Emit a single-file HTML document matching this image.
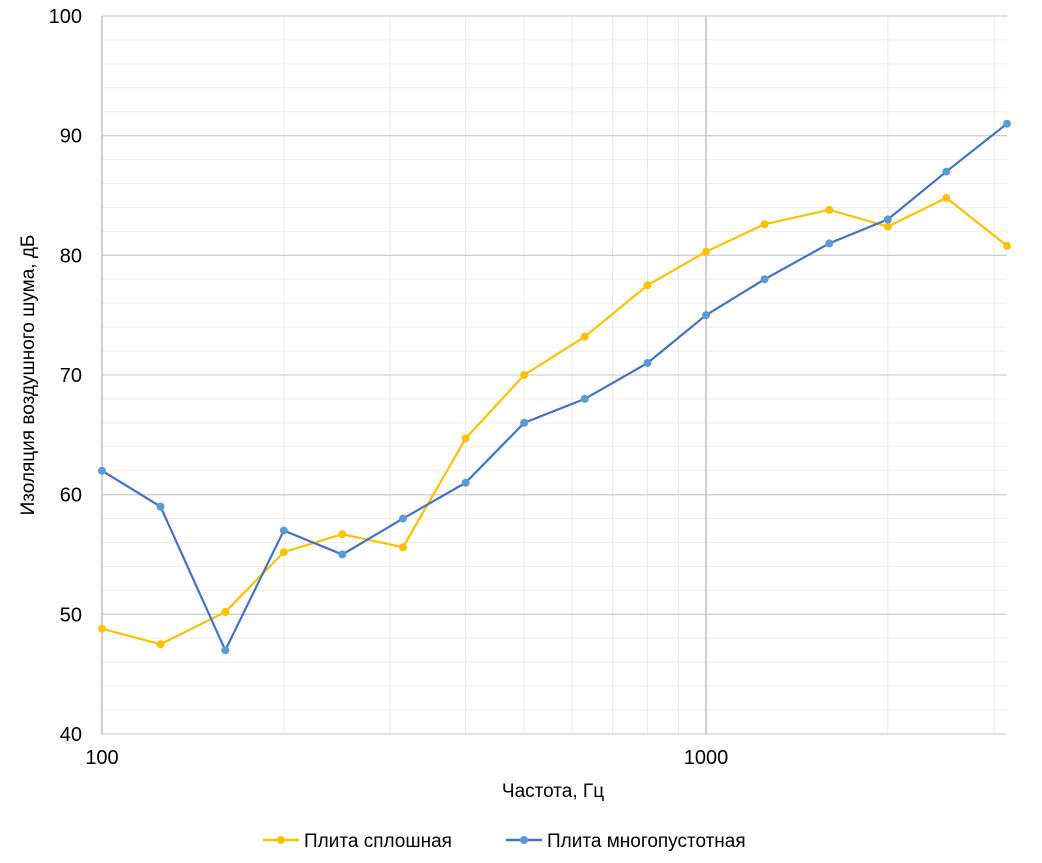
<!DOCTYPE html>
<html><head><meta charset="utf-8"><style>
body{margin:0;background:#fff;font-family:"Liberation Sans",sans-serif;}
svg text{font-family:"Liberation Sans",sans-serif;fill:#000;}
</style></head><body>
<svg id="chart" width="1042" height="858" xmlns="http://www.w3.org/2000/svg">
<g id="grid"></g>
<g id="axes"></g>
<g id="series"></g>
<text transform="translate(34,375) rotate(-90)" text-anchor="middle" font-size="19">Изоляция воздушного  шума, дБ</text>
<text x="553" y="797" text-anchor="middle" font-size="19">Частота, Гц</text>
<g>
<g><line x1="263" y1="840" x2="299" y2="840" stroke="#FFC000" stroke-width="2.5"/><circle cx="281" cy="840" r="4" fill="#FFC000"/><text x="304" y="847" font-size="19">Плита сплошная</text></g>
<g><line x1="506" y1="840" x2="542" y2="840" stroke="#4472C4" stroke-width="2.5"/><circle cx="524" cy="840" r="4" fill="#5B9BD5"/><text x="547" y="847" font-size="19">Плита многопустотная</text></g>
</g>
</svg>
<script>
const freqs=[100,125,160,200,250,315,400,500,630,800,1000,1250,1600,2000,2500,3150];
const solid=[48.8,47.5,50.2,55.2,56.7,55.6,64.7,70,73.2,77.5,80.3,82.6,83.8,82.4,84.8,80.8];
const hollow=[62,59,47,57,55,58,61,66,68,71,75,78,81,83,87,91];
const yTicks=[40,50,60,70,80,90,100];
const xTickLabels=[100,1000];
const NS="http://www.w3.org/2000/svg";
const X0=102,DEC=604,Y0=734,PPU=718/60,XR=1007;
const xs=f=>X0+(Math.log10(f)-2)*DEC;
const ys=v=>Y0-(v-40)*PPU;
function mk(tag,attrs,parent){const e=document.createElementNS(NS,tag);for(const k in attrs)e.setAttribute(k,attrs[k]);parent.appendChild(e);return e;}
const grid=document.getElementById('grid'),axes=document.getElementById('axes'),ser=document.getElementById('series');
for(let v=42;v<100;v+=2){if(v%10===0)continue;
const l=mk('line',{x1:X0,x2:XR,y1:ys(v),y2:ys(v),stroke:'#eeeeee','stroke-width':1},grid);
}
[200,300,400,500,600,700,800,900,2000,3000].forEach(f=>{
const l=mk('line',{x1:xs(f),x2:xs(f),y1:ys(100),y2:Y0,stroke:'#e8e8e8','stroke-width':1},grid);
});
yTicks.forEach(v=>{
const l=mk('line',{x1:X0,x2:XR,y1:ys(v),y2:ys(v),stroke:'#d0d0d0','stroke-width':1.3},grid);

const t=mk('text',{x:82,y:ys(v)+7,'text-anchor':'end','font-size':20},axes);t.textContent=v;
});
const v1=mk('line',{x1:xs(1000),x2:xs(1000),y1:ys(100),y2:Y0,stroke:'#bfbfbf','stroke-width':1.5},grid);

const v0=mk('line',{x1:X0,x2:X0,y1:ys(100),y2:Y0,stroke:'#bfbfbf','stroke-width':1.5},grid);

xTickLabels.forEach(f=>{const t=mk('text',{x:xs(f),y:764,'text-anchor':'middle','font-size':20},axes);t.textContent=f;
});
function draw(vals,line,dot,name){
const p=mk('polyline',{points:vals.map((v,i)=>xs(freqs[i])+','+ys(v)).join(' '),fill:'none',stroke:line,'stroke-width':2.2},ser);

vals.forEach((v,i)=>{const c=mk('circle',{cx:xs(freqs[i]),cy:ys(v),r:4,fill:dot},ser);
});}
draw(solid,'#FFC000','#FFC000','solid-slab');
draw(hollow,'#4472C4','#5B9BD5','hollow-slab');
</script>
</body></html>
